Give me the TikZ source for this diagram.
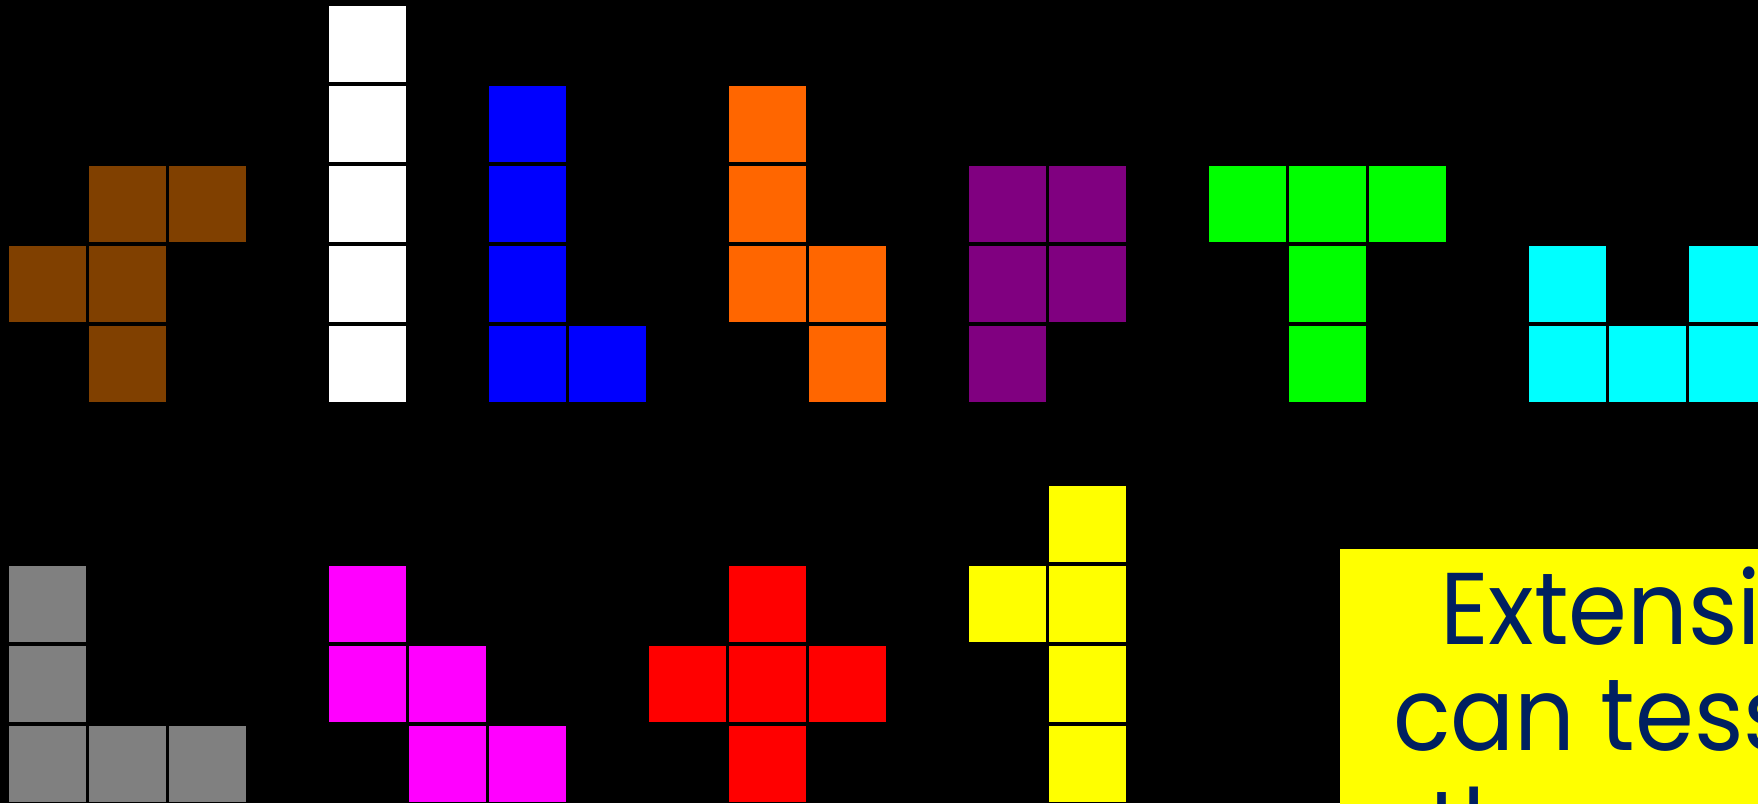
\documentclass[tikz,border=0pt]{standalone}
\usepackage{fontspec}
\setmainfont{Poppins}
\newfontfamily\extfont{Poppins}[FakeStretch=0.93]
\usepackage{tikz}
\definecolor{PentBrown}{RGB}{128,64,0}
\definecolor{PentWhite}{RGB}{255,255,255}
\definecolor{PentBlue}{RGB}{0,0,255}
\definecolor{PentOrange}{RGB}{255,102,0}
\definecolor{PentPurple}{RGB}{128,0,128}
\definecolor{PentGreen}{RGB}{0,255,0}
\definecolor{PentCyan}{RGB}{0,255,255}
\definecolor{PentGray}{RGB}{128,128,128}
\definecolor{PentMagenta}{RGB}{255,0,255}
\definecolor{PentRed}{RGB}{255,0,0}
\definecolor{PentYellow}{RGB}{255,255,0}
\definecolor{TextNavy}{RGB}{0,32,96}
\tikzset{
  sq/.style={minimum width=77pt, minimum height=76pt, inner sep=0pt, outer sep=0pt, draw=none},
  extbox/.style={fill=PentYellow, draw=none, inner sep=0pt, outer sep=0pt, anchor=north west,
    minimum width=460pt, minimum height=300pt},
  exttxt/.style={anchor=base west, inner sep=0pt, text=TextNavy, font=\extfont\fontsize{102}{106}\selectfont},
}

\begin{document}
\begin{tikzpicture}[x=1pt, y=-1pt]
  \fill[black] (0,0) rectangle (1758,803);
  \useasboundingbox (0,0) rectangle (1758,803);
  \clip (0,0) rectangle (1758,803);
  % top row of pentominoes
  \foreach \c/\r [count=\i] in {1/2,2/2,0/3,1/3,1/4}
    \node[sq, fill=PentBrown] (brown\i) at ({47.5+80*\c},{44+80*\r}) {};
  \foreach \r [count=\i] in {0,...,4}
    \node[sq, fill=PentWhite] (white\i) at ({47.5+80*4},{44+80*\r}) {};
  \foreach \c/\r [count=\i] in {6/1,6/2,6/3,6/4,7/4}
    \node[sq, fill=PentBlue] (blue\i) at ({47.5+80*\c},{44+80*\r}) {};
  \foreach \c/\r [count=\i] in {9/1,9/2,9/3,10/3,10/4}
    \node[sq, fill=PentOrange] (orange\i) at ({47.5+80*\c},{44+80*\r}) {};
  \foreach \c/\r [count=\i] in {12/2,13/2,12/3,13/3,12/4}
    \node[sq, fill=PentPurple] (purple\i) at ({47.5+80*\c},{44+80*\r}) {};
  \foreach \c/\r [count=\i] in {15/2,16/2,17/2,16/3,16/4}
    \node[sq, fill=PentGreen] (green\i) at ({47.5+80*\c},{44+80*\r}) {};
  \foreach \c/\r [count=\i] in {19/3,21/3,19/4,20/4,21/4}
    \node[sq, fill=PentCyan] (cyan\i) at ({47.5+80*\c},{44+80*\r}) {};
  % bottom row
  \foreach \c/\r [count=\i] in {0/7,0/8,0/9,1/9,2/9}
    \node[sq, fill=PentGray] (gray\i) at ({47.5+80*\c},{44+80*\r}) {};
  \foreach \c/\r [count=\i] in {4/7,4/8,5/8,5/9,6/9}
    \node[sq, fill=PentMagenta] (magenta\i) at ({47.5+80*\c},{44+80*\r}) {};
  \foreach \c/\r [count=\i] in {9/7,8/8,9/8,10/8,9/9}
    \node[sq, fill=PentRed] (red\i) at ({47.5+80*\c},{44+80*\r}) {};
  \foreach \c/\r [count=\i] in {13/6,12/7,13/7,13/8,13/9}
    \node[sq, fill=PentYellow] (yellow\i) at ({47.5+80*\c},{44+80*\r}) {};
  % extension box
  \node[extbox] (ext) at (1340,549) {};
  \node[exttxt] (extA) at (1440,644) {Extension:};
  \node[exttxt] (extB) at (1393,750) {can tessellate};
  \node[exttxt] (extC) at (1428,862) {them};
\end{tikzpicture}
\end{document}
